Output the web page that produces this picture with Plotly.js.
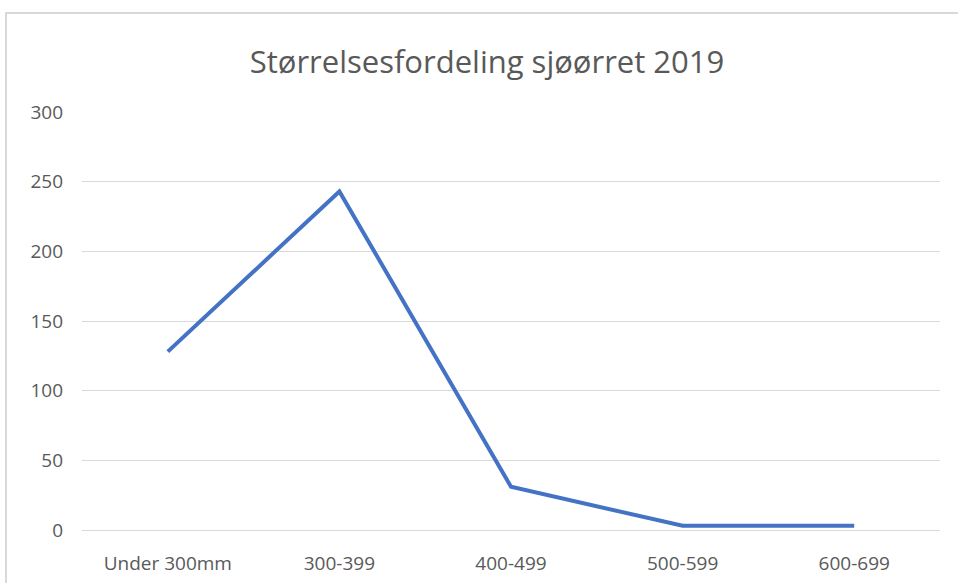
<!DOCTYPE html>
<html>
<head>
<meta charset="utf-8">
<script src="https://cdn.plot.ly/plotly-3.0.1.min.js"></script>
<style>
  html, body { margin: 0; padding: 0; background: #fff; overflow: hidden; }
  #chart { width: 958px; height: 583px; }
  #frame { position: absolute; left: 5px; top: 12px; width: 1000px; height: 700px;
           border: 2px solid #d9d9d9; pointer-events: none; box-sizing: border-box; }
</style>
</head>
<body>
<div id="chart"></div>
<div id="frame"></div>
<script>
const categories = ["Under 300mm", "300-399", "400-499", "500-599", "600-699"];
const counts = [128, 243, 31, 3, 3];
const yTicks = [0, 50, 100, 150, 200, 250, 300];

const trace = {
  x: categories,
  y: counts,
  type: "scatter",
  mode: "lines",
  line: { color: "#4472C4", width: 4 },
  hoverinfo: "x+y"
};

const layout = {
  width: 958,
  height: 583,
  margin: { l: 82, r: 18, t: 112, b: 53 },
  paper_bgcolor: "#ffffff",
  plot_bgcolor: "#ffffff",
  showlegend: false,
  font: { family: "Open Sans, Noto Sans, sans-serif", color: "#595959" },
  title: {
    text: "Størrelsesfordeling sjøørret 2019",
    font: { size: 31, color: "#595959", family: "Open Sans, Noto Sans, sans-serif" },
    x: 487 / 958,
    xanchor: "center",
    y: 1 - 62 / 583,
    yanchor: "middle"
  },
  xaxis: {
    type: "category",
    range: [-0.5, 4.5],
    showgrid: false,
    zeroline: false,
    showline: false,
    ticks: "",
    tickfont: { size: 19, color: "#595959" },
    ticklabelstandoff: 20
  },
  yaxis: {
    range: [0, 300],
    tickvals: yTicks,
    showgrid: true,
    gridcolor: "#d9d9d9",
    gridwidth: 1,
    zeroline: true,
    zerolinecolor: "#d9d9d9",
    zerolinewidth: 1,
    showline: false,
    ticks: "",
    tickfont: { size: 19, color: "#595959" },
    ticklabelstandoff: 18
  }
};

Plotly.newPlot("chart", [trace], layout, { displayModeBar: false, staticPlot: true });
</script>
</body>
</html>
